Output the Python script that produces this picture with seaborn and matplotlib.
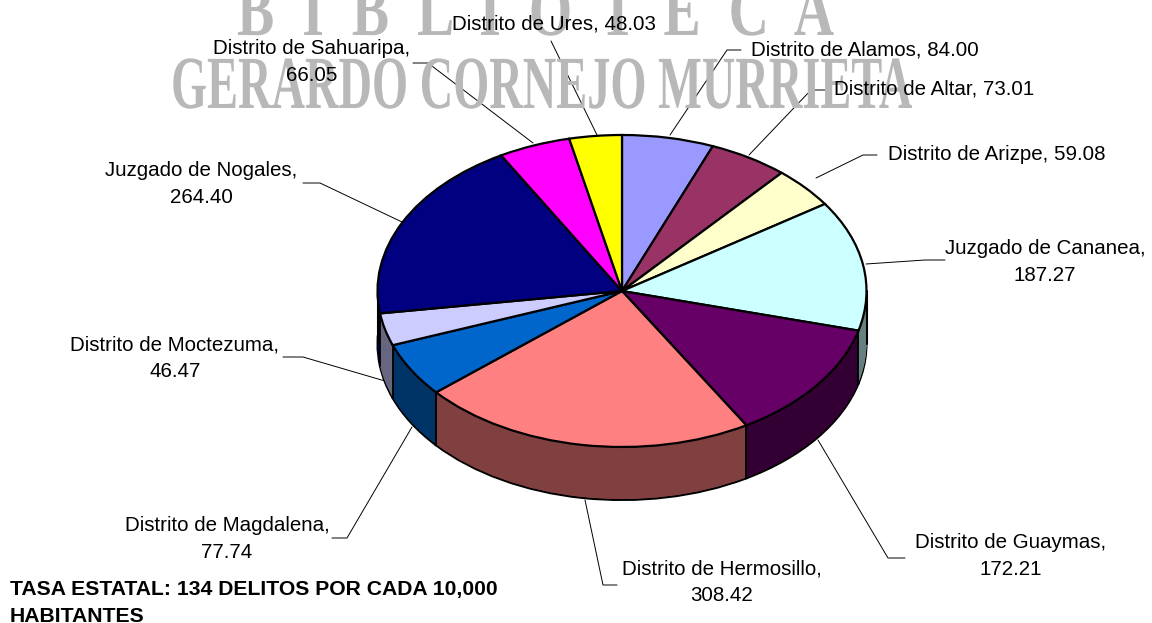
import matplotlib
matplotlib.use("Agg")
import matplotlib.pyplot as plt
import matplotlib.patheffects as pe
from matplotlib.transforms import Affine2D
import numpy as np
import seaborn as sns

# Data
distritos = ["Distrito de Alamos", "Distrito de Altar", "Distrito de Arizpe", "Juzgado de Cananea",
             "Distrito de Guaymas", "Distrito de Hermosillo", "Distrito de Magdalena", "Distrito de Moctezuma",
             "Juzgado de Nogales", "Distrito de Sahuaripa", "Distrito de Ures"]
tasas = [84.00, 73.01, 59.08, 187.27, 172.21, 308.42, 77.74, 46.47, 264.40, 66.05, 48.03]
colores = ["#9999FF", "#993366", "#FFFFCC", "#CCFFFF", "#660066", "#FF8080",
           "#0066CC", "#CCCCFF", "#000080", "#FF00FF", "#FFFF00"]
nota = "TASA ESTATAL: 134 DELITOS POR CADA 10,000\nHABITANTES"

sns.set_theme(style="white")
plt.rcParams["font.family"] = ["Liberation Sans", "DejaVu Sans"]
top_colors = sns.color_palette(colores)
side_colors = [tuple(v * 0.5 for v in c) for c in top_colors]


# squeezes text horizontally around its centre (watermark is a condensed face)
class Squeeze(pe.AbstractPathEffect):
    def __init__(self, sx, cx):
        super().__init__()
        self.sx = sx
        self.cx = cx

    def draw_path(self, renderer, gc, tpath, affine, rgbFace=None):
        t = affine + Affine2D().translate(-self.cx, 0).scale(self.sx, 1).translate(self.cx, 0)
        renderer.draw_path(gc, tpath, t, rgbFace)


fig = plt.figure(figsize=(11.52, 6.23), dpi=100)

# Background axes in picture pixels: watermark, labels, leader lines
ax_txt = fig.add_axes([0, 0, 1, 1], zorder=0)
ax_txt.set_xlim(0, 1152)
ax_txt.set_ylim(623, 0)
ax_txt.axis("off")


def watermark(s, x0, x1, base, size):
    t = ax_txt.text((x0 + x1) / 2, base, s, family="Liberation Serif", weight="bold", fontsize=size,
                    color="#b8b8b8", ha="center", va="baseline")
    w = t.get_window_extent(fig.canvas.get_renderer()).width
    cx = ax_txt.transData.transform(((x0 + x1) / 2, 0))[0]
    t.set_path_effects([Squeeze((x1 - x0) / w, cx)])


watermark("B  I  B  L  I  O  T  E  C  A", 237, 834, 35, 54)
watermark("GERARDO CORNEJO MURRIETA", 171, 912, 108, 54)

labels = [
    (865, 50, "Distrito de Alamos, 84.00"),
    (934, 89, "Distrito de Altar, 73.01"),
    (997, 155, "Distrito de Arizpe, 59.08"),
    (1045, 262, "Juzgado de Cananea,\n187.27"),
    (1011, 556, "Distrito de Guaymas,\n172.21"),
    (722, 582, "Distrito de Hermosillo,\n308.42"),
    (227, 539, "Distrito de Magdalena,\n77.74"),
    (175, 358, "Distrito de Moctezuma,\n46.47"),
    (201, 184, "Juzgado de Nogales,\n264.40"),
    (312, 62, "Distrito de Sahuaripa,\n66.05"),
    (554, 24, "Distrito de Ures, 48.03"),
]
for x, y, s in labels:
    ax_txt.text(x, y, s, ha="center", va="center", fontsize=14.8, color="black", linespacing=1.48)

leaders = [
    [(741, 50), (727, 50), (670, 135)],
    [(825, 90), (811, 90), (749, 155)],
    [(877, 155), (863, 155), (816, 178)],
    [(945, 260), (925, 260), (866, 264)],
    [(905, 558), (888, 558), (818, 440)],
    [(617, 585), (603, 585), (585, 500)],
    [(332, 538), (347, 538), (412, 427)],
    [(283, 357), (303, 357), (385, 381)],
    [(303, 183), (320, 183), (402, 222)],
    [(413, 63), (428, 63), (533, 143)],
    [(551, 41), (551, 41), (597, 135)],
]
for pts in leaders:
    xs, ys = zip(*pts)
    ax_txt.plot(xs, ys, color="black", lw=0.7)

ax_txt.text(10, 603, nota, ha="left", va="center", fontsize=15.2, weight="bold", color="black", linespacing=1.5)

# Pie axes: radius 1 maps to 244.5 px across and 156 px down, so the pie lies flat
cx, cy, rx, ry = 622, 291, 244.5, 156
depth_px = 53
ax = fig.add_axes([0, 0, 1, 1], zorder=1)
ax.patch.set_alpha(0)

# side wall: the same pie repeated downwards, darkened
for d in np.arange(depth_px, 0, -1.0):
    edge = "black" if d == depth_px else "none"
    ax.pie(tasas, colors=side_colors, startangle=90, counterclock=False, center=(0, -d / ry),
           wedgeprops={"edgecolor": edge, "linewidth": 1.5 if d == depth_px else 0})

# vertical edges where the slices meet on the visible front
angles = np.deg2rad(90 - 360 * np.cumsum(tasas) / np.sum(tasas))
for a in angles:
    if np.sin(a) < 0:
        ax.plot([np.cos(a)] * 2, [np.sin(a), np.sin(a) - depth_px / ry], color="black", lw=1.3, zorder=1)
for side in (-1, 1):
    ax.plot([side, side], [0, -depth_px / ry], color="black", lw=1.5, zorder=1)

ax.pie(tasas, colors=top_colors, startangle=90, counterclock=False,
       wedgeprops={"edgecolor": "black", "linewidth": 1.6})

ax.set_aspect("auto")
ax.set_xlim(-cx / rx, (1152 - cx) / rx)
ax.set_ylim(-(623 - cy) / ry, cy / ry)
ax.axis("off")

fig.savefig("out.png", dpi=100)
